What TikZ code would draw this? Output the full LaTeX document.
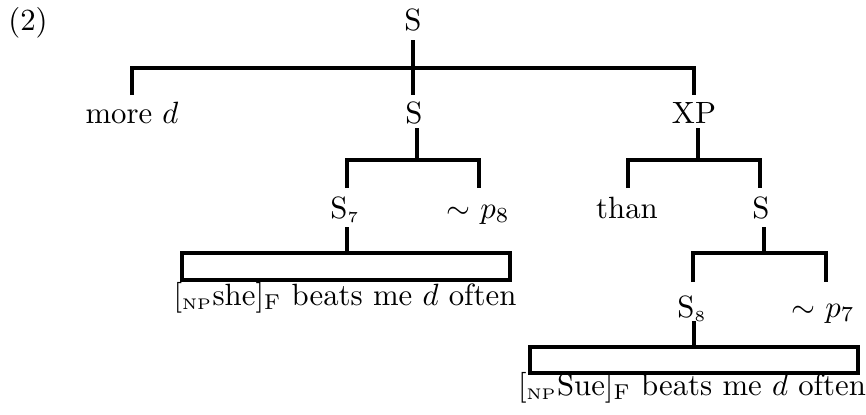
\documentclass[tikz,border=0pt]{standalone}
\begin{document}
\begin{tikzpicture}[x=0.325pt,y=-0.325pt,line width=1pt,
  lab/.style={anchor=base,inner sep=0pt}]
\useasboundingbox (0,0) rectangle (866,414);
\node[lab] (ex) at (28,30) {(2)};
\node[lab] (S0) at (413,30) {S};
\node[lab] (more) at (132,123) {more $d$};
\node[lab] (S1) at (414,123) {S};
\node[lab] (XP) at (694,123) {XP};
\node[lab] (S7) at (345,218) {S$_{\scriptscriptstyle 7}$};
\node[lab] (p8) at (478,218) {$\sim$ $p_8$};
\node[lab] (than) at (627,218) {than};
\node[lab] (S2) at (761,218) {S};
\node[lab] (S8) at (692,317) {S$_{\scriptscriptstyle 8}$};
\node[lab] (p7) at (823,317) {$\sim$ $p_7$};
\node[lab] (leafA) at (345,305) {$[_{\scriptscriptstyle\mathrm{NP}}$she$]_{\mathrm{F}}$ beats me $d$ often};
\node[lab] (leafB) at (692,395) {$[_{\scriptscriptstyle\mathrm{NP}}$Sue$]_{\mathrm{F}}$ beats me $d$ often};
% level 1
\coordinate (b1) at (413,68);
\draw (S0 |- 0,40) -- (S0 |- 0,95);
\draw (more |- 0,95) -- (more |- b1) -- (XP |- b1) -- (XP |- 0,95);
% middle S
\coordinate (b2) at (417,160);
\draw (b2 |- 0,128) -- (b2);
\draw (347,188) -- (347,160) -- (479,160) -- (479,188);
% XP
\coordinate (b3) at (698,160);
\draw (b3 |- 0,128) -- (b3);
\draw (628,188) -- (628,160) -- (760,160) -- (760,188);
% S under XP
\coordinate (b4) at (764,253);
\draw (b4 |- 0,227) -- (b4);
\draw (693,282) -- (693,253) -- (826,253) -- (826,282);
% S7 box
\coordinate (t7) at (347,253);
\draw (t7 |- 0,227) -- (t7);
\draw (182,253) rectangle (510,280);
% S8 box
\coordinate (t8) at (694,347);
\draw (t8 |- 0,321) -- (t8);
\draw (530,347) rectangle (858,373);
\end{tikzpicture}
\end{document}
